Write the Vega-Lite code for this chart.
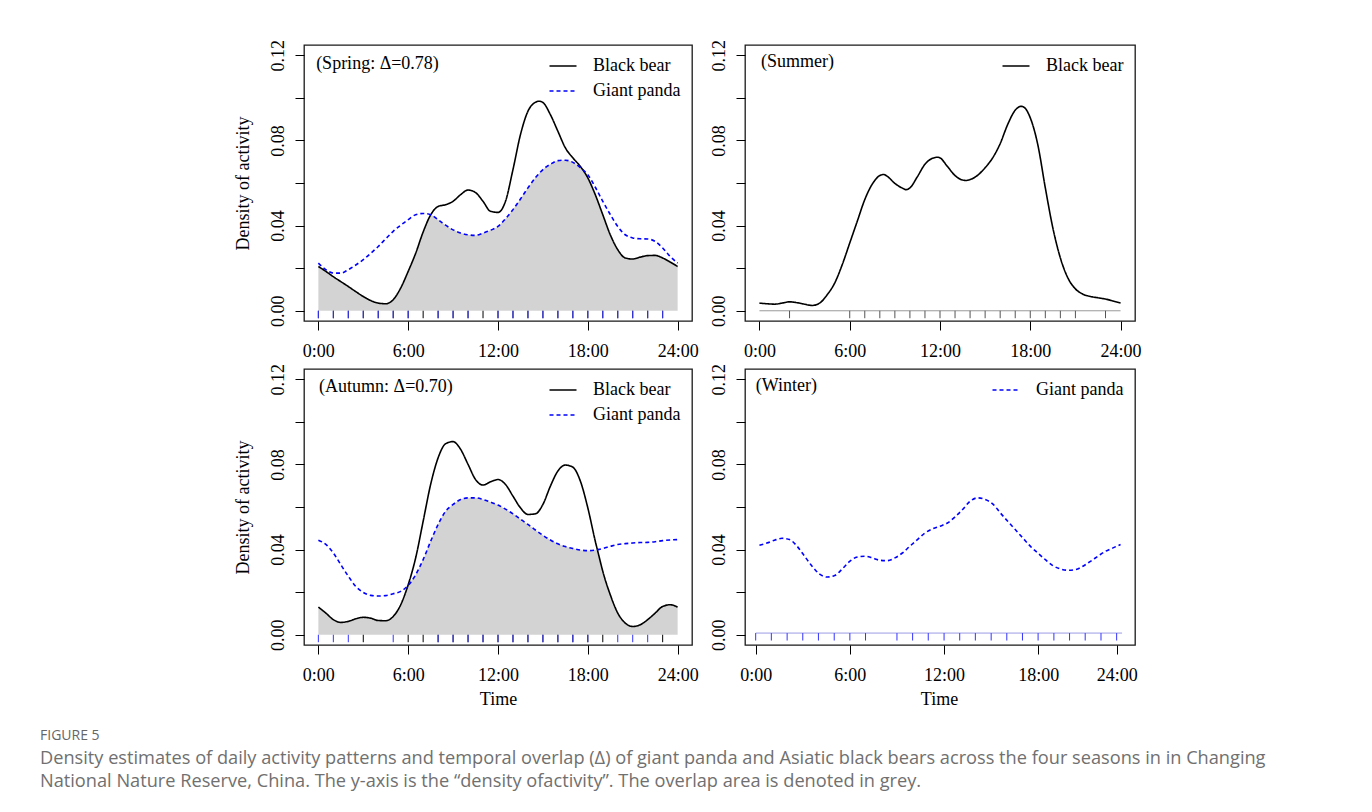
{
  "$schema": "https://vega.github.io/schema/vega-lite/v6.json",
  "padding": {"left": 40, "top": 38, "right": 20, "bottom": 6},
  "background": "white",
  "title": {
    "text": "FIGURE 5",
    "subtitle": ["Density estimates of daily activity patterns and temporal overlap (Δ) of giant panda and Asiatic black bears across the four seasons in in Changing", "National Nature Reserve, China. The y-axis is the “density ofactivity”. The overlap area is denoted in grey."],
    "orient": "bottom", "anchor": "start", "frame": "group", "dx": -264, "offset": 20,
    "font": "Open Sans", "fontSize": 14, "fontWeight": "normal", "color": "#666666", "baseline": "top",
    "subtitleFont": "Open Sans", "subtitleFontSize": 18.2, "subtitleColor": "#707070", "subtitleLineHeight": 23, "subtitlePadding": 7
  },
  "datasets": {
    "spring": [
      {"h":0,"Black bear":0.0208,"Giant panda":0.0224},{"h":0.5,"Black bear":0.0185,"Giant panda":0.0193},{"h":1,"Black bear":0.016,"Giant panda":0.0177},{"h":1.5,"Black bear":0.0137,"Giant panda":0.0177},{"h":2,"Black bear":0.0114,"Giant panda":0.0193},{"h":2.5,"Black bear":0.009,"Giant panda":0.0215},{"h":3,"Black bear":0.0067,"Giant panda":0.024},{"h":3.5,"Black bear":0.0048,"Giant panda":0.027},{"h":4,"Black bear":0.0036,"Giant panda":0.0302},{"h":4.5,"Black bear":0.0033,"Giant panda":0.0338},{"h":5,"Black bear":0.0052,"Giant panda":0.0373},{"h":5.5,"Black bear":0.0107,"Giant panda":0.0402},{"h":6,"Black bear":0.0185,"Giant panda":0.0428},{"h":6.5,"Black bear":0.027,"Giant panda":0.0451},{"h":7,"Black bear":0.037,"Giant panda":0.0457},{"h":7.5,"Black bear":0.045,"Giant panda":0.0451},{"h":8,"Black bear":0.049,"Giant panda":0.0428},{"h":8.5,"Black bear":0.0498,"Giant panda":0.0402},{"h":9,"Black bear":0.0514,"Giant panda":0.038},{"h":9.5,"Black bear":0.0545,"Giant panda":0.0365},{"h":10,"Black bear":0.0567,"Giant panda":0.0357},{"h":10.5,"Black bear":0.0555,"Giant panda":0.0354},{"h":11,"Black bear":0.0514,"Giant panda":0.0365},{"h":11.5,"Black bear":0.0467,"Giant panda":0.0378},{"h":12,"Black bear":0.0462,"Giant panda":0.0396},{"h":12.5,"Black bear":0.0514,"Giant panda":0.0432},{"h":13,"Black bear":0.0663,"Giant panda":0.0475},{"h":13.5,"Black bear":0.0827,"Giant panda":0.0525},{"h":14,"Black bear":0.0937,"Giant panda":0.0577},{"h":14.5,"Black bear":0.0979,"Giant panda":0.0625},{"h":14.75,"Black bear":0.0984,"Giant panda":0.0645},{"h":15,"Black bear":0.0978,"Giant panda":0.0663},{"h":15.5,"Black bear":0.0921,"Giant panda":0.0688},{"h":16,"Black bear":0.0843,"Giant panda":0.0705},{"h":16.5,"Black bear":0.0765,"Giant panda":0.0707},{"h":17,"Black bear":0.0718,"Giant panda":0.0697},{"h":17.5,"Black bear":0.0678,"Giant panda":0.0672},{"h":18,"Black bear":0.0624,"Giant panda":0.0639},{"h":18.5,"Black bear":0.0545,"Giant panda":0.058},{"h":19,"Black bear":0.0451,"Giant panda":0.0514},{"h":19.5,"Black bear":0.0357,"Giant panda":0.0452},{"h":20,"Black bear":0.0287,"Giant panda":0.0396},{"h":20.5,"Black bear":0.0248,"Giant panda":0.0357},{"h":21,"Black bear":0.0243,"Giant panda":0.0342},{"h":21.5,"Black bear":0.0252,"Giant panda":0.0338},{"h":22,"Black bear":0.0259,"Giant panda":0.0337},{"h":22.5,"Black bear":0.026,"Giant panda":0.0326},{"h":23,"Black bear":0.0248,"Giant panda":0.0295},{"h":23.5,"Black bear":0.0229,"Giant panda":0.0255},{"h":24,"Black bear":0.0208,"Giant panda":0.0224}
    ],
    "spring_ov": [
      {"h":0,"d":0.0208},{"h":0.5,"d":0.0185},{"h":1,"d":0.016},{"h":1.5,"d":0.0137},{"h":2,"d":0.0114},{"h":2.5,"d":0.009},{"h":3,"d":0.0067},{"h":3.5,"d":0.0048},{"h":4,"d":0.0036},{"h":4.5,"d":0.0033},{"h":5,"d":0.0052},{"h":5.5,"d":0.0107},{"h":6,"d":0.0185},{"h":6.5,"d":0.027},{"h":7,"d":0.037},{"h":7.5,"d":0.045},{"h":8,"d":0.0428},{"h":8.5,"d":0.0402},{"h":9,"d":0.038},{"h":9.5,"d":0.0365},{"h":10,"d":0.0357},{"h":10.5,"d":0.0354},{"h":11,"d":0.0365},{"h":11.5,"d":0.0378},{"h":12,"d":0.0396},{"h":12.5,"d":0.0432},{"h":13,"d":0.0475},{"h":13.5,"d":0.0525},{"h":14,"d":0.0577},{"h":14.5,"d":0.0625},{"h":14.75,"d":0.0645},{"h":15,"d":0.0663},{"h":15.5,"d":0.0688},{"h":16,"d":0.0705},{"h":16.5,"d":0.0707},{"h":17,"d":0.0697},{"h":17.5,"d":0.0672},{"h":18,"d":0.0624},{"h":18.5,"d":0.0545},{"h":19,"d":0.0451},{"h":19.5,"d":0.0357},{"h":20,"d":0.0287},{"h":20.5,"d":0.0248},{"h":21,"d":0.0243},{"h":21.5,"d":0.0252},{"h":22,"d":0.0259},{"h":22.5,"d":0.026},{"h":23,"d":0.0248},{"h":23.5,"d":0.0229},{"h":24,"d":0.0208}
    ],
    "spring_rug_bb": [{"h":0},{"h":1},{"h":2},{"h":3},{"h":4},{"h":5},{"h":6},{"h":7},{"h":8},{"h":9},{"h":10},{"h":11},{"h":12},{"h":13},{"h":14},{"h":15},{"h":16},{"h":17},{"h":18},{"h":19},{"h":20},{"h":21},{"h":22},{"h":23}],
    "spring_rug_gp": [{"h":0},{"h":1},{"h":2},{"h":3},{"h":4},{"h":5},{"h":6},{"h":8},{"h":9},{"h":10},{"h":12},{"h":13},{"h":14},{"h":15},{"h":16},{"h":17},{"h":18},{"h":19},{"h":20},{"h":21},{"h":22},{"h":23}],
    "summer": [
      {"h":0,"Black bear":0.0036},{"h":0.5,"Black bear":0.0033},{"h":1,"Black bear":0.0031},{"h":1.5,"Black bear":0.0036},{"h":2,"Black bear":0.0042},{"h":2.5,"Black bear":0.0038},{"h":3,"Black bear":0.0031},{"h":3.5,"Black bear":0.0025},{"h":4,"Black bear":0.0036},{"h":4.5,"Black bear":0.0075},{"h":5,"Black bear":0.013},{"h":5.5,"Black bear":0.0216},{"h":6,"Black bear":0.0318},{"h":6.5,"Black bear":0.042},{"h":7,"Black bear":0.0522},{"h":7.5,"Black bear":0.0595},{"h":8,"Black bear":0.0635},{"h":8.25,"Black bear":0.064},{"h":8.5,"Black bear":0.0631},{"h":9,"Black bear":0.0598},{"h":9.5,"Black bear":0.0576},{"h":9.75,"Black bear":0.0569},{"h":10,"Black bear":0.0577},{"h":10.5,"Black bear":0.063},{"h":11,"Black bear":0.0688},{"h":11.5,"Black bear":0.0716},{"h":11.85,"Black bear":0.0721},{"h":12,"Black bear":0.0718},{"h":12.5,"Black bear":0.0677},{"h":13,"Black bear":0.0635},{"h":13.5,"Black bear":0.0614},{"h":13.75,"Black bear":0.0612},{"h":14,"Black bear":0.0616},{"h":14.5,"Black bear":0.0636},{"h":15,"Black bear":0.0672},{"h":15.5,"Black bear":0.0718},{"h":16,"Black bear":0.0785},{"h":16.5,"Black bear":0.0875},{"h":17,"Black bear":0.0942},{"h":17.4,"Black bear":0.096},{"h":17.6,"Black bear":0.0955},{"h":18,"Black bear":0.0906},{"h":18.5,"Black bear":0.078},{"h":19,"Black bear":0.0577},{"h":19.5,"Black bear":0.0389},{"h":20,"Black bear":0.0248},{"h":20.5,"Black bear":0.0154},{"h":21,"Black bear":0.0103},{"h":21.5,"Black bear":0.0078},{"h":22,"Black bear":0.0067},{"h":22.5,"Black bear":0.0061},{"h":23,"Black bear":0.0055},{"h":23.5,"Black bear":0.0046},{"h":24,"Black bear":0.0036}
    ],
    "summer_rug": [{"h":2},{"h":6},{"h":7},{"h":8},{"h":9},{"h":10},{"h":11},{"h":12},{"h":13},{"h":14},{"h":15},{"h":16},{"h":17},{"h":18},{"h":19},{"h":20},{"h":21},{"h":23}],
    "autumn": [
      {"h":0,"Black bear":0.013,"Giant panda":0.0444},{"h":0.5,"Black bear":0.0102,"Giant panda":0.0424},{"h":1,"Black bear":0.0071,"Giant panda":0.0384},{"h":1.5,"Black bear":0.0058,"Giant panda":0.0329},{"h":2,"Black bear":0.0063,"Giant panda":0.0275},{"h":2.5,"Black bear":0.0075,"Giant panda":0.0227},{"h":3,"Black bear":0.0082,"Giant panda":0.0199},{"h":3.5,"Black bear":0.0078,"Giant panda":0.0185},{"h":4,"Black bear":0.0067,"Giant panda":0.0182},{"h":4.5,"Black bear":0.0066,"Giant panda":0.0184},{"h":5,"Black bear":0.0086,"Giant panda":0.0193},{"h":5.5,"Black bear":0.0141,"Giant panda":0.0204},{"h":6,"Black bear":0.0235,"Giant panda":0.0232},{"h":6.5,"Black bear":0.0361,"Giant panda":0.0282},{"h":7,"Black bear":0.0533,"Giant panda":0.0353},{"h":7.5,"Black bear":0.0706,"Giant panda":0.0439},{"h":8,"Black bear":0.0831,"Giant panda":0.0518},{"h":8.5,"Black bear":0.0897,"Giant panda":0.058},{"h":9,"Black bear":0.0907,"Giant panda":0.0612},{"h":9.5,"Black bear":0.0871,"Giant panda":0.0635},{"h":10,"Black bear":0.08,"Giant panda":0.0643},{"h":10.5,"Black bear":0.0729,"Giant panda":0.0643},{"h":11,"Black bear":0.0703,"Giant panda":0.0635},{"h":11.5,"Black bear":0.0718,"Giant panda":0.0623},{"h":12,"Black bear":0.0729,"Giant panda":0.0609},{"h":12.5,"Black bear":0.0706,"Giant panda":0.059},{"h":13,"Black bear":0.0651,"Giant panda":0.0568},{"h":13.5,"Black bear":0.0596,"Giant panda":0.0543},{"h":14,"Black bear":0.0565,"Giant panda":0.0518},{"h":14.5,"Black bear":0.0568,"Giant panda":0.0492},{"h":15,"Black bear":0.0612,"Giant panda":0.0467},{"h":15.5,"Black bear":0.0698,"Giant panda":0.0445},{"h":16,"Black bear":0.0769,"Giant panda":0.0427},{"h":16.5,"Black bear":0.0797,"Giant panda":0.0414},{"h":17,"Black bear":0.0787,"Giant panda":0.0405},{"h":17.5,"Black bear":0.0722,"Giant panda":0.0398},{"h":18,"Black bear":0.0596,"Giant panda":0.0395},{"h":18.5,"Black bear":0.0439,"Giant panda":0.0398},{"h":18.75,"Black bear":0.0368,"Giant panda":0.0401},{"h":19,"Black bear":0.0298,"Giant panda":0.0405},{"h":19.5,"Black bear":0.0188,"Giant panda":0.0415},{"h":20,"Black bear":0.0102,"Giant panda":0.0424},{"h":20.5,"Black bear":0.0055,"Giant panda":0.0428},{"h":21,"Black bear":0.0039,"Giant panda":0.0431},{"h":21.5,"Black bear":0.0047,"Giant panda":0.0433},{"h":22,"Black bear":0.0071,"Giant panda":0.0434},{"h":22.5,"Black bear":0.0102,"Giant panda":0.0437},{"h":23,"Black bear":0.0133,"Giant panda":0.0442},{"h":23.5,"Black bear":0.0141,"Giant panda":0.0445},{"h":24,"Black bear":0.013,"Giant panda":0.0447}
    ],
    "autumn_ov": [
      {"h":0,"d":0.013},{"h":0.5,"d":0.0102},{"h":1,"d":0.0071},{"h":1.5,"d":0.0058},{"h":2,"d":0.0063},{"h":2.5,"d":0.0075},{"h":3,"d":0.0082},{"h":3.5,"d":0.0078},{"h":4,"d":0.0067},{"h":4.5,"d":0.0066},{"h":5,"d":0.0086},{"h":5.5,"d":0.0141},{"h":6,"d":0.0232},{"h":6.5,"d":0.0282},{"h":7,"d":0.0353},{"h":7.5,"d":0.0439},{"h":8,"d":0.0518},{"h":8.5,"d":0.058},{"h":9,"d":0.0612},{"h":9.5,"d":0.0635},{"h":10,"d":0.0643},{"h":10.5,"d":0.0643},{"h":11,"d":0.0635},{"h":11.5,"d":0.0623},{"h":12,"d":0.0609},{"h":12.5,"d":0.059},{"h":13,"d":0.0568},{"h":13.5,"d":0.0543},{"h":14,"d":0.0518},{"h":14.5,"d":0.0492},{"h":15,"d":0.0467},{"h":15.5,"d":0.0445},{"h":16,"d":0.0427},{"h":16.5,"d":0.0414},{"h":17,"d":0.0405},{"h":17.5,"d":0.0398},{"h":18,"d":0.0395},{"h":18.5,"d":0.0398},{"h":18.75,"d":0.0368},{"h":19,"d":0.0298},{"h":19.5,"d":0.0188},{"h":20,"d":0.0102},{"h":20.5,"d":0.0055},{"h":21,"d":0.0039},{"h":21.5,"d":0.0047},{"h":22,"d":0.0071},{"h":22.5,"d":0.0102},{"h":23,"d":0.0133},{"h":23.5,"d":0.0141},{"h":24,"d":0.013}
    ],
    "autumn_rug_bb": [{"h":3},{"h":6},{"h":7},{"h":8},{"h":9},{"h":10},{"h":11},{"h":12},{"h":13},{"h":14},{"h":15},{"h":16},{"h":17},{"h":18},{"h":19},{"h":23}],
    "autumn_rug_gp": [{"h":0},{"h":1},{"h":2},{"h":5},{"h":8},{"h":9},{"h":10},{"h":11},{"h":12},{"h":13},{"h":14},{"h":15},{"h":16},{"h":17},{"h":18},{"h":20},{"h":21},{"h":22}],
    "winter": [
      {"h":0,"Giant panda":0.042},{"h":0.5,"Giant panda":0.0431},{"h":1,"Giant panda":0.0444},{"h":1.5,"Giant panda":0.0453},{"h":2,"Giant panda":0.0447},{"h":2.5,"Giant panda":0.0416},{"h":3,"Giant panda":0.0369},{"h":3.5,"Giant panda":0.0322},{"h":4,"Giant panda":0.0285},{"h":4.5,"Giant panda":0.0271},{"h":5,"Giant panda":0.0278},{"h":5.5,"Giant panda":0.0309},{"h":6,"Giant panda":0.0345},{"h":6.5,"Giant panda":0.0365},{"h":7,"Giant panda":0.0369},{"h":7.5,"Giant panda":0.0361},{"h":8,"Giant panda":0.035},{"h":8.5,"Giant panda":0.0348},{"h":9,"Giant panda":0.0361},{"h":9.5,"Giant panda":0.0384},{"h":10,"Giant panda":0.0416},{"h":10.5,"Giant panda":0.0447},{"h":11,"Giant panda":0.0478},{"h":11.5,"Giant panda":0.0497},{"h":12,"Giant panda":0.051},{"h":12.5,"Giant panda":0.0525},{"h":13,"Giant panda":0.0554},{"h":13.5,"Giant panda":0.0588},{"h":14,"Giant panda":0.0627},{"h":14.5,"Giant panda":0.0643},{"h":15,"Giant panda":0.0635},{"h":15.5,"Giant panda":0.0615},{"h":16,"Giant panda":0.0573},{"h":16.5,"Giant panda":0.0533},{"h":17,"Giant panda":0.0494},{"h":17.5,"Giant panda":0.0455},{"h":18,"Giant panda":0.0416},{"h":18.5,"Giant panda":0.0384},{"h":19,"Giant panda":0.0353},{"h":19.5,"Giant panda":0.0325},{"h":20,"Giant panda":0.0309},{"h":20.5,"Giant panda":0.0303},{"h":21,"Giant panda":0.0306},{"h":21.5,"Giant panda":0.0322},{"h":22,"Giant panda":0.0345},{"h":22.5,"Giant panda":0.0369},{"h":23,"Giant panda":0.0392},{"h":23.5,"Giant panda":0.0408},{"h":24,"Giant panda":0.0424}
    ],
    "winter_rug": [{"h":-0.25},{"h":0.79},{"h":1.84},{"h":2.88},{"h":3.92},{"h":4.97},{"h":6.01},{"h":7.05},{"h":9.14},{"h":10.18},{"h":11.22},{"h":12.27},{"h":13.31},{"h":14.35},{"h":15.4},{"h":16.44},{"h":17.48},{"h":18.52},{"h":19.57},{"h":20.61},{"h":21.65},{"h":22.7},{"h":23.74}]
  },
  "columns": 2,
  "spacing": {"row": 48, "column": 53},
  "bounds": "flush",
  "resolve": {"scale": {"color": "independent", "strokeDash": "independent", "x": "independent", "y": "independent"}},
  "concat": [
    {
      "width": 388, "height": 276,
      "layer": [
        {"data": {"name": "spring_ov"}, "mark": {"type": "area", "color": "#d3d3d3", "interpolate": "monotone"},
         "encoding": {
           "x": {"field": "h", "type": "quantitative", "scale": {"domain": [-0.96, 24.96], "nice": false, "zero": false}, "axis": {"values": [0, 6, 12, 18, 24], "labelExpr": "datum.value + ':00'", "title": null}},
           "y": {"field": "d", "type": "quantitative", "scale": {"domain": [-0.0048, 0.1248], "nice": false, "zero": false}, "axis": {"values": [0, 0.02, 0.04, 0.06, 0.08, 0.1, 0.12], "labelExpr": "indexof(['0.00','0.04','0.08','0.12'], format(datum.value, '.2f')) >= 0 ? format(datum.value, '.2f') : ''", "title": "Density of activity"}},
           "y2": {"datum": 0}}},
        {"data": {"name": "spring_rug_bb"}, "mark": {"type": "rule", "color": "#000000", "strokeWidth": 1},
         "encoding": {"x": {"field": "h", "type": "quantitative", "title": null}, "y": {"datum": 0, "type": "quantitative", "title": "Density of activity"}, "y2": {"datum": -0.0035}}},
        {"data": {"name": "spring_rug_gp"}, "mark": {"type": "rule", "color": "#3333ff", "strokeWidth": 1},
         "encoding": {"x": {"field": "h", "type": "quantitative", "title": null}, "y": {"datum": 0, "type": "quantitative", "title": "Density of activity"}, "y2": {"datum": -0.0035}}},
        {"data": {"name": "spring"}, "transform": [{"fold": ["Black bear", "Giant panda"], "as": ["species", "d"]}], "mark": {"type": "line", "interpolate": "monotone", "strokeWidth": 1.6},
         "encoding": {
           "x": {"field": "h", "type": "quantitative", "title": null},
           "y": {"field": "d", "type": "quantitative", "title": "Density of activity"},
           "color": {"field": "species", "type": "nominal", "scale": {"domain": ["Black bear", "Giant panda"], "range": ["#000000", "#0000ff"]}, "legend": {"title": null}},
           "strokeDash": {"field": "species", "type": "nominal", "scale": {"domain": ["Black bear", "Giant panda"], "range": [[1, 0], [4, 3]]}, "legend": {"title": null}}
         }},
        {"data": {"values": [{"label": "(Spring: Δ=0.78)"}]}, "mark": {"type": "text", "align": "left", "baseline": "middle", "font": "Liberation Serif", "fontSize": 18, "color": "#000"},
         "encoding": {"x": {"datum": -0.15, "type": "quantitative", "title": null}, "y": {"datum": 0.1158, "type": "quantitative", "title": "Density of activity"}, "text": {"field": "label"}}}
      ]
    },
    {
      "width": 390, "height": 276,
      "layer": [
        {"data": {"values": [{"a": 1}]}, "mark": {"type": "rule", "color": "#999999", "strokeWidth": 1},
         "encoding": {
           "x": {"datum": 0, "type": "quantitative", "scale": {"domain": [-0.96, 24.96], "nice": false, "zero": false}, "axis": {"values": [0, 6, 12, 18, 24], "labelExpr": "datum.value + ':00'", "title": null}},
           "x2": {"datum": 24},
           "y": {"datum": 0, "type": "quantitative", "scale": {"domain": [-0.0048, 0.1248], "nice": false, "zero": false}, "axis": {"values": [0, 0.02, 0.04, 0.06, 0.08, 0.1, 0.12], "labelExpr": "indexof(['0.00','0.04','0.08','0.12'], format(datum.value, '.2f')) >= 0 ? format(datum.value, '.2f') : ''", "title": null}}}},
        {"data": {"name": "summer_rug"}, "mark": {"type": "rule", "color": "#555555", "strokeWidth": 1},
         "encoding": {"x": {"field": "h", "type": "quantitative", "title": null}, "y": {"datum": 0, "type": "quantitative", "title": null}, "y2": {"datum": -0.0035}}},
        {"data": {"name": "summer"}, "transform": [{"fold": ["Black bear"], "as": ["species", "d"]}], "mark": {"type": "line", "interpolate": "monotone", "strokeWidth": 1.6},
         "encoding": {
           "x": {"field": "h", "type": "quantitative", "title": null},
           "y": {"field": "d", "type": "quantitative", "title": null},
           "color": {"field": "species", "type": "nominal", "scale": {"domain": ["Black bear"], "range": ["#000000"]}, "legend": {"title": null}},
           "strokeDash": {"field": "species", "type": "nominal", "scale": {"domain": ["Black bear"], "range": [[1, 0]]}, "legend": {"title": null}}
         }},
        {"data": {"values": [{"label": "(Summer)"}]}, "mark": {"type": "text", "align": "left", "baseline": "middle", "font": "Liberation Serif", "fontSize": 18, "color": "#000"},
         "encoding": {"x": {"datum": 0.1, "type": "quantitative", "title": null}, "y": {"datum": 0.117, "type": "quantitative", "title": null}, "text": {"field": "label"}}}
      ]
    },
    {
      "width": 388, "height": 276,
      "layer": [
        {"data": {"name": "autumn_ov"}, "mark": {"type": "area", "color": "#d3d3d3", "interpolate": "monotone"},
         "encoding": {
           "x": {"field": "h", "type": "quantitative", "scale": {"domain": [-0.96, 24.96], "nice": false, "zero": false}, "axis": {"values": [0, 6, 12, 18, 24], "labelExpr": "datum.value + ':00'", "title": "Time"}},
           "y": {"field": "d", "type": "quantitative", "scale": {"domain": [-0.0048, 0.1248], "nice": false, "zero": false}, "axis": {"values": [0, 0.02, 0.04, 0.06, 0.08, 0.1, 0.12], "labelExpr": "indexof(['0.00','0.04','0.08','0.12'], format(datum.value, '.2f')) >= 0 ? format(datum.value, '.2f') : ''", "title": "Density of activity"}},
           "y2": {"datum": 0}}},
        {"data": {"name": "autumn_rug_bb"}, "mark": {"type": "rule", "color": "#000000", "strokeWidth": 1},
         "encoding": {"x": {"field": "h", "type": "quantitative", "title": "Time"}, "y": {"datum": 0, "type": "quantitative", "title": "Density of activity"}, "y2": {"datum": -0.0035}}},
        {"data": {"name": "autumn_rug_gp"}, "mark": {"type": "rule", "color": "#3333ff", "strokeWidth": 1},
         "encoding": {"x": {"field": "h", "type": "quantitative", "title": "Time"}, "y": {"datum": 0, "type": "quantitative", "title": "Density of activity"}, "y2": {"datum": -0.0035}}},
        {"data": {"name": "autumn"}, "transform": [{"fold": ["Black bear", "Giant panda"], "as": ["species", "d"]}], "mark": {"type": "line", "interpolate": "monotone", "strokeWidth": 1.6},
         "encoding": {
           "x": {"field": "h", "type": "quantitative", "title": "Time"},
           "y": {"field": "d", "type": "quantitative", "title": "Density of activity"},
           "color": {"field": "species", "type": "nominal", "scale": {"domain": ["Black bear", "Giant panda"], "range": ["#000000", "#0000ff"]}, "legend": {"title": null}},
           "strokeDash": {"field": "species", "type": "nominal", "scale": {"domain": ["Black bear", "Giant panda"], "range": [[1, 0], [4, 3]]}, "legend": {"title": null}}
         }},
        {"data": {"values": [{"label": "(Autumn: Δ=0.70)"}]}, "mark": {"type": "text", "align": "left", "baseline": "middle", "font": "Liberation Serif", "fontSize": 18, "color": "#000"},
         "encoding": {"x": {"datum": 0.05, "type": "quantitative", "title": "Time"}, "y": {"datum": 0.1163, "type": "quantitative", "title": "Density of activity"}, "text": {"field": "label"}}}
      ]
    },
    {
      "width": 390, "height": 276,
      "layer": [
        {"data": {"values": [{"a": 1}]}, "mark": {"type": "rule", "color": "#9a9ae6", "strokeWidth": 1},
         "encoding": {
           "x": {"datum": -0.25, "type": "quantitative", "scale": {"domain": [-0.96, 24.96], "nice": false, "zero": false}, "axis": {"values": [-0.25, 6.01, 12.27, 18.53, 23.75], "labelExpr": "['0:00','6:00','12:00','18:00','24:00'][round(datum.index*4)]", "title": "Time"}},
           "x2": {"datum": 24.1},
           "y": {"datum": 0.0008, "type": "quantitative", "scale": {"domain": [-0.0048, 0.1248], "nice": false, "zero": false}, "axis": {"values": [0, 0.02, 0.04, 0.06, 0.08, 0.1, 0.12], "labelExpr": "indexof(['0.00','0.04','0.08','0.12'], format(datum.value, '.2f')) >= 0 ? format(datum.value, '.2f') : ''", "title": null}}}},
        {"data": {"name": "winter_rug"}, "mark": {"type": "rule", "color": "#3333ff", "strokeWidth": 1},
         "encoding": {"x": {"field": "h", "type": "quantitative", "title": "Time"}, "y": {"datum": 0.0008, "type": "quantitative", "title": null}, "y2": {"datum": -0.0027}}},
        {"data": {"name": "winter"}, "transform": [{"fold": ["Giant panda"], "as": ["species", "d"]}], "mark": {"type": "line", "interpolate": "monotone", "strokeWidth": 1.6},
         "encoding": {
           "x": {"field": "h", "type": "quantitative", "title": "Time"},
           "y": {"field": "d", "type": "quantitative", "title": null},
           "color": {"field": "species", "type": "nominal", "scale": {"domain": ["Giant panda"], "range": ["#0000ff"]}, "legend": {"title": null}},
           "strokeDash": {"field": "species", "type": "nominal", "scale": {"domain": ["Giant panda"], "range": [[4, 3]]}, "legend": {"title": null}}
         }},
        {"data": {"values": [{"label": "(Winter)"}]}, "mark": {"type": "text", "align": "left", "baseline": "middle", "font": "Liberation Serif", "fontSize": 18, "color": "#000"},
         "encoding": {"x": {"datum": -0.25, "type": "quantitative", "title": "Time"}, "y": {"datum": 0.1167, "type": "quantitative", "title": null}, "text": {"field": "label"}}}
      ]
    }
  ],
  "config": {
    "view": {"stroke": "#1a1a1a", "strokeWidth": 1.3},
    "font": "Liberation Serif",
    "axis": {"grid": false, "domain": false, "ticks": true, "tickColor": "#000", "tickSize": 9, "tickWidth": 1, "labelFont": "Liberation Serif", "labelFontSize": 18, "labelColor": "#000", "titleFont": "Liberation Serif", "titleFontSize": 18, "titleFontWeight": "normal", "titleColor": "#000", "labelOverlap": false, "labelFlush": false},
    "axisX": {"labelBaseline": "alphabetic", "labelPadding": 26, "labelAngle": 0, "titleBaseline": "alphabetic", "titleAlign": "center", "titleX": 194, "titleY": 59.5},
    "axisY": {"labelAngle": 270, "labelAlign": "center", "labelBaseline": "alphabetic", "labelPadding": 12, "titleBaseline": "alphabetic", "titleAlign": "center", "titleAngle": 270, "titleX": -56, "titleY": 138},
    "legend": {"orient": "top-right", "offset": 11, "padding": 0, "labelFont": "Liberation Serif", "labelFontSize": 18, "labelColor": "#000", "symbolType": "M-1.5,0L1.5,0", "symbolSize": 324, "symbolStrokeWidth": 1.6, "labelOffset": 20, "rowPadding": 6}
  }
}
